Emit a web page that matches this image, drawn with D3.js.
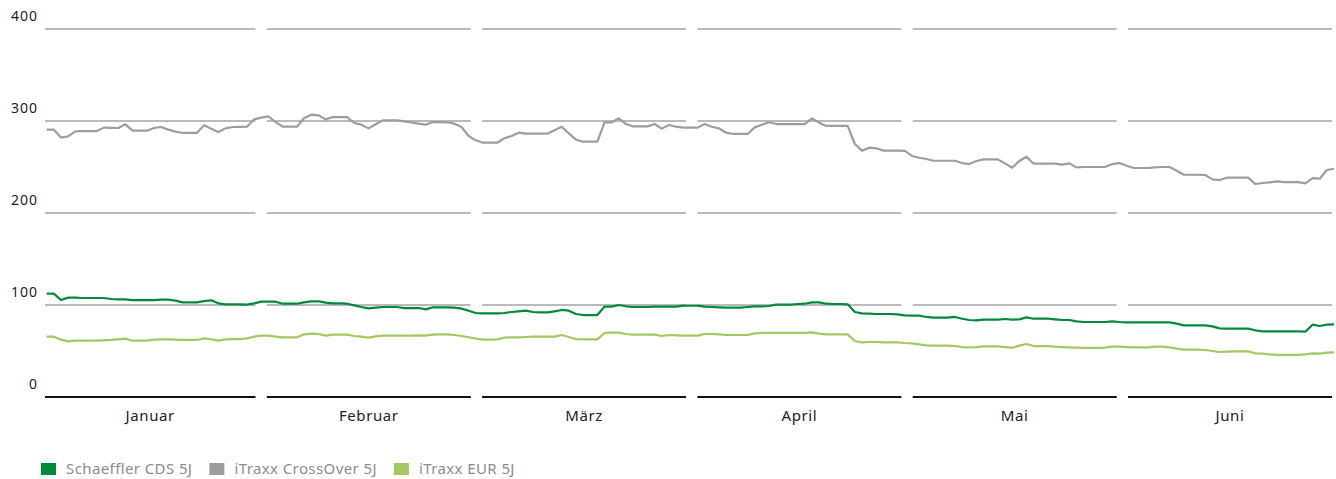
<!DOCTYPE html>
<html>
<head>
<meta charset="utf-8">
<script src="https://cdn.jsdelivr.net/npm/d3@7"></script>
<style>
  body { margin: 0; background: #fff; }
  svg { display: block; font-family: "Noto Sans", "Open Sans", sans-serif; }
</style>
</head>
<body>
<svg width="1336" height="479"></svg>
<script>
var months = ["Januar", "Februar", "März", "April", "Mai", "Juni"];
var yTicks = [0, 100, 200, 300, 400];

var seriesNames = ["Schaeffler CDS 5J", "iTraxx CrossOver 5J", "iTraxx EUR 5J"];
var seriesColors = ["#00893d", "#9d9d9c", "#a2c863"];

// daily values, 1 Jan - 30 Jun
var schaeffler = [
  112.3, 112.3, 105.4, 108, 108, 107.6, 107.6, 107.6, 107.6, 106.5,
  106.2, 106.2, 105.4, 105.4, 105.4, 105.4, 105.8, 105.8, 104.7, 102.9,
  102.9, 102.9, 104.3, 105.1, 101.8, 100.7, 100.7, 100.7, 100.4, 101.8,
  103.6, 103.6, 103.6, 101.4, 101.4, 101.4, 102.9, 104, 104, 102.5,
  101.8, 101.8, 101.4, 99.6, 97.8, 96.4, 97.1, 97.8, 97.8, 97.8,
  96.7, 96.7, 96.7, 95.3, 97.5, 97.5, 97.5, 97.1, 96, 93.8,
  91.3, 90.9, 90.9, 90.9, 91.3, 92.4, 93.1, 93.8, 92.4, 92,
  92, 93.1, 94.6, 93.8, 90.2, 89.1, 89.1, 89.1, 98.2, 98.2,
  100, 98.6, 97.8, 97.8, 97.8, 98.2, 98.2, 98.2, 98.2, 99.3,
  99.3, 99.3, 98.2, 97.8, 97.5, 97.1, 97.1, 97.1, 97.8, 98.6,
  98.6, 98.9, 100.4, 100.4, 100.4, 101.1, 101.4, 102.9, 102.9, 101.4,
  101.1, 101.1, 100.7, 92.4, 90.9, 90.6, 90.2, 90.2, 90.2, 89.9,
  88.8, 88.4, 88.4, 87, 86.2, 86.2, 86.2, 87, 85.1, 83.7,
  83.3, 84.1, 84.1, 84.1, 84.8, 84.1, 84.4, 86.6, 85.1, 85.1,
  85.1, 84.4, 83.7, 83.7, 82.2, 81.5, 81.5, 81.5, 81.5, 82.2,
  81.5, 81.2, 81.2, 81.2, 81.2, 81.2, 81.2, 81.2, 79.7, 77.9,
  77.9, 77.9, 77.9, 76.8, 74.6, 74.3, 74.3, 74.3, 74.3, 72.5,
  71.4, 71.4, 71.4, 71.4, 71.4, 71.4, 71, 78.6, 77.2, 78.6,
  79
];

var crossover = [
  290.6, 290.6, 282, 283.3, 288.8, 289.1, 289.1, 289.1, 292.8, 292.6,
  292.4, 296.4, 289.5, 289.5, 289.5, 292.4, 293.5, 290.6, 288.4, 287,
  287, 287, 295.3, 291.7, 288, 292, 293.5, 293.7, 293.8, 301.8,
  303.6, 305.1, 298.9, 293.8, 293.8, 293.8, 303.3, 306.9, 306.2, 301.8,
  304.3, 304.3, 304.3, 297.8, 296, 292, 296.4, 300.7, 300.7, 300.7,
  299.6, 298.5, 297.1, 296, 298.9, 298.8, 298.6, 297.1, 293.5, 283.7,
  279, 276.4, 276.4, 276.4, 281.2, 283.7, 287.3, 286.2, 286.2, 286.2,
  286.2, 289.9, 293.8, 286.6, 279.7, 277.5, 277.5, 277.5, 298.6, 298.6,
  302.9, 296.7, 294.2, 294.2, 294.2, 296.7, 291.7, 295.7, 293.8, 292.8,
  292.8, 292.8, 296.7, 293.8, 292, 287.3, 285.9, 285.9, 285.9, 293.1,
  296, 298.6, 296.7, 296.7, 296.7, 296.7, 296.7, 302.9, 298.2, 294.6,
  294.6, 294.6, 294.6, 275, 267.8, 271, 270.3, 267.8, 267.8, 267.8,
  267.5, 262, 260.1, 258.7, 256.8, 256.8, 256.8, 256.8, 254.3, 253.2,
  256.5, 258.3, 258.3, 258.3, 253.9, 249.2, 256.5, 261.2, 253.6, 253.6,
  253.6, 253.6, 252.5, 253.9, 249.6, 250, 250, 250, 250, 253.2,
  254.3, 251.4, 248.9, 248.9, 248.9, 249.6, 250, 250, 246, 241.6,
  241.6, 241.6, 241.3, 236.5, 235.8, 238.4, 238.4, 238.4, 238.4, 231.5,
  232.6, 233.3, 234.4, 233.6, 233.6, 233.6, 232.2, 238, 237.3, 246.7,
  248.1
];

var itraxxEur = [
  65.6, 65.6, 62.3, 60.5, 61.2, 61.2, 61.2, 61.2, 61.6, 62,
  62.7, 63.4, 61.2, 61.2, 61.2, 62.3, 62.7, 62.7, 62.3, 62,
  62, 62, 63.8, 62.7, 61.2, 62.7, 63, 63, 63.8, 65.6,
  66.7, 66.7, 65.6, 64.9, 64.9, 64.9, 68.1, 68.8, 68.5, 66.7,
  67.8, 67.8, 67.8, 66.3, 65.6, 64.5, 65.9, 66.7, 66.7, 66.7,
  66.7, 66.7, 67, 66.7, 67.8, 68.1, 68.1, 67.4, 66.3, 64.9,
  63.4, 62.3, 62.3, 62.7, 64.5, 64.9, 64.9, 65.2, 65.6, 65.6,
  65.6, 65.6, 67.4, 65.2, 63, 62.7, 62.7, 62.7, 69.6, 69.9,
  69.9, 68.5, 67.8, 67.8, 67.8, 67.8, 66.3, 67.4, 67, 66.7,
  66.7, 66.7, 68.5, 68.5, 68.1, 67.4, 67.4, 67.4, 67.4, 69.2,
  69.6, 69.6, 69.6, 69.6, 69.6, 69.6, 69.6, 70.3, 68.8, 68.1,
  68.1, 68.1, 68.1, 60.9, 59.4, 59.8, 59.8, 59.4, 59.4, 59.4,
  58.7, 58.3, 57.2, 56.2, 55.8, 55.8, 55.8, 55.4, 54.3, 54,
  54.3, 55.1, 55.1, 55.1, 54.3, 53.6, 55.8, 57.6, 55.4, 55.4,
  55.4, 54.7, 54.3, 54, 53.6, 53.3, 53.3, 53.3, 53.6, 54.7,
  54.7, 54.3, 54, 54, 54, 54.7, 54.7, 54, 52.5, 51.4,
  51.4, 51.4, 51.1, 50, 48.9, 49.3, 49.6, 49.6, 49.6, 47.5,
  47.1, 46.4, 45.7, 45.7, 45.7, 45.7, 46.4, 47.5, 47.1, 48.2,
  48.6
];

var series = [schaeffler, crossover, itraxxEur];

var svg = d3.select("svg");

var x = d3.scaleLinear()
    .domain([0, crossover.length - 1])
    .range([46.7, 1334]);

var y = d3.scaleLinear()
    .domain([0, 400])
    .range([397, 29]);

var band = d3.scaleBand()
    .domain(months)
    .range([51.5, 1332])
    .paddingInner(0.0525)
    .paddingOuter(0);

// month panel extents, first one runs to the left edge of the plot
function panelX1(m, i) { return i === 0 ? 45 : band(m); }
function panelX2(m) { return band(m) + band.bandwidth(); }

var grid = svg.append("g").attr("class", "grid");
months.forEach(function(m, i) {
  grid.selectAll(null)
    .data(yTicks.filter(function(t) { return t > 0; }))
    .enter().append("line")
      .attr("x1", panelX1(m, i))
      .attr("x2", panelX2(m))
      .attr("y1", function(d) { return y(d); })
      .attr("y2", function(d) { return y(d); })
      .attr("stroke", "#a3a3a3")
      .attr("stroke-width", 1.3);

  grid.append("line")
      .attr("x1", panelX1(m, i))
      .attr("x2", panelX2(m))
      .attr("y1", y(0))
      .attr("y2", y(0))
      .attr("stroke", "#111")
      .attr("stroke-width", 2.2);
});

svg.append("g")
  .selectAll("text")
  .data(yTicks)
  .enter().append("text")
    .attr("x", 38)
    .attr("y", function(d) { return y(d) - 8; })
    .attr("text-anchor", "end")
    .attr("fill", "#222")
    .style("font-size", "14px")
    .style("letter-spacing", "1px")
    .text(function(d) { return d; });

svg.append("g")
  .selectAll("text")
  .data(months)
  .enter().append("text")
    .attr("x", function(d, i) { return (panelX1(d, i) + panelX2(d)) / 2; })
    .attr("y", 421)
    .attr("text-anchor", "middle")
    .attr("fill", "#222")
    .style("font-size", "15px")
    .style("letter-spacing", "0.6px")
    .text(function(d) { return d; });

var line = d3.line()
    .x(function(d, i) { return x(i); })
    .y(function(d) { return y(d); });

// crossover first, greens on top
[1, 2, 0].forEach(function(s) {
  svg.append("path")
      .datum(series[s])
      .attr("fill", "none")
      .attr("stroke", seriesColors[s])
      .attr("stroke-width", 2.2)
      .attr("stroke-linejoin", "round")
      .attr("d", line);
});

var legend = svg.append("g").attr("class", "legend");
var lx = 41;
seriesNames.forEach(function(name, i) {
  legend.append("rect")
      .attr("x", lx)
      .attr("y", 463)
      .attr("width", 15)
      .attr("height", 12)
      .attr("fill", seriesColors[i]);
  var t = legend.append("text")
      .attr("x", lx + 25)
      .attr("y", 474)
      .attr("fill", "#8c8c8c")
      .style("font-size", "15px")
      .style("letter-spacing", "0.4px")
      .text(name);
  lx = lx + 25 + t.node().getComputedTextLength() + 17;
});
</script>
</body>
</html>
